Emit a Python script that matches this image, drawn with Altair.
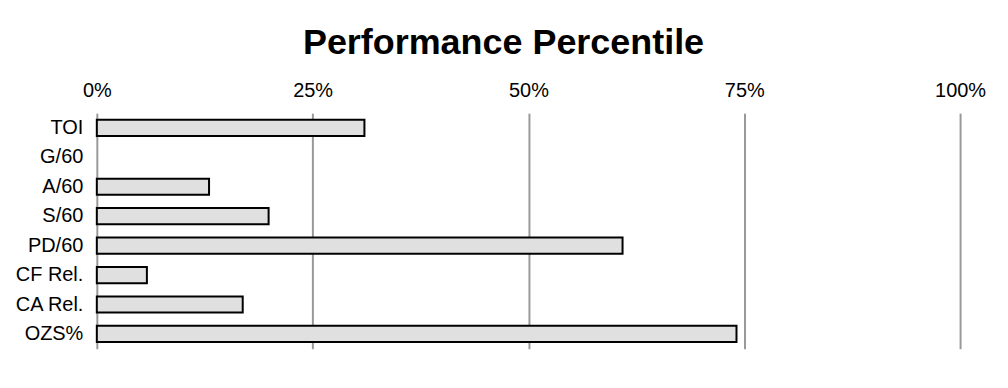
import altair as alt
import pandas as pd

metrics = ["TOI", "G/60", "A/60", "S/60", "PD/60", "CF Rel.", "CA Rel.", "OZS%"]
percentiles = [31.0, 0.0, 13.0, 19.9, 60.9, 5.8, 16.9, 74.1]
tick_values = [0, 25, 50, 75, 100]

df = pd.DataFrame({"metric": metrics, "value": percentiles})

FONT = "Liberation Sans"

chart = (
    alt.Chart(df)
    .transform_filter("datum.value > 0")
    .mark_bar(fill="#e0e0e0", stroke="black", strokeWidth=2)
    .encode(
        x=alt.X(
            "value:Q",
            scale=alt.Scale(domain=[0, 100], nice=False),
            axis=alt.Axis(
                orient="top",
                values=tick_values,
                labelExpr="datum.value + '%'",
                labelFlush=False,
                grid=True,
                gridColor="#999999",
                gridWidth=2,
                domain=False,
                ticks=False,
                labelFontSize=20,
                labelFont=FONT,
                labelColor="black",
                labelPadding=13,
                title=None,
            ),
        ),
        y=alt.Y(
            "metric:N",
            sort=metrics,
            scale=alt.Scale(domain=metrics, paddingInner=0.45, paddingOuter=0.225),
            axis=alt.Axis(
                domain=False,
                ticks=False,
                grid=False,
                labelFontSize=20,
                labelFont=FONT,
                labelColor="black",
                labelPadding=14,
                title=None,
            ),
        ),
    )
    .properties(
        width=865,
        height=236,
        title=alt.TitleParams(
            "Performance Percentile",
            font=FONT,
            fontSize=36,
            fontWeight="bold",
            color="black",
            anchor="middle",
            dx=-25,
            offset=18,
        ),
        autosize=alt.AutoSizeParams(type="none"),
        padding={"left": 89, "top": 105, "right": 40, "bottom": 20},
    )
    .configure_view(stroke=None)
)

chart.save("out.html", embed_options={"renderer": "svg", "actions": False})
